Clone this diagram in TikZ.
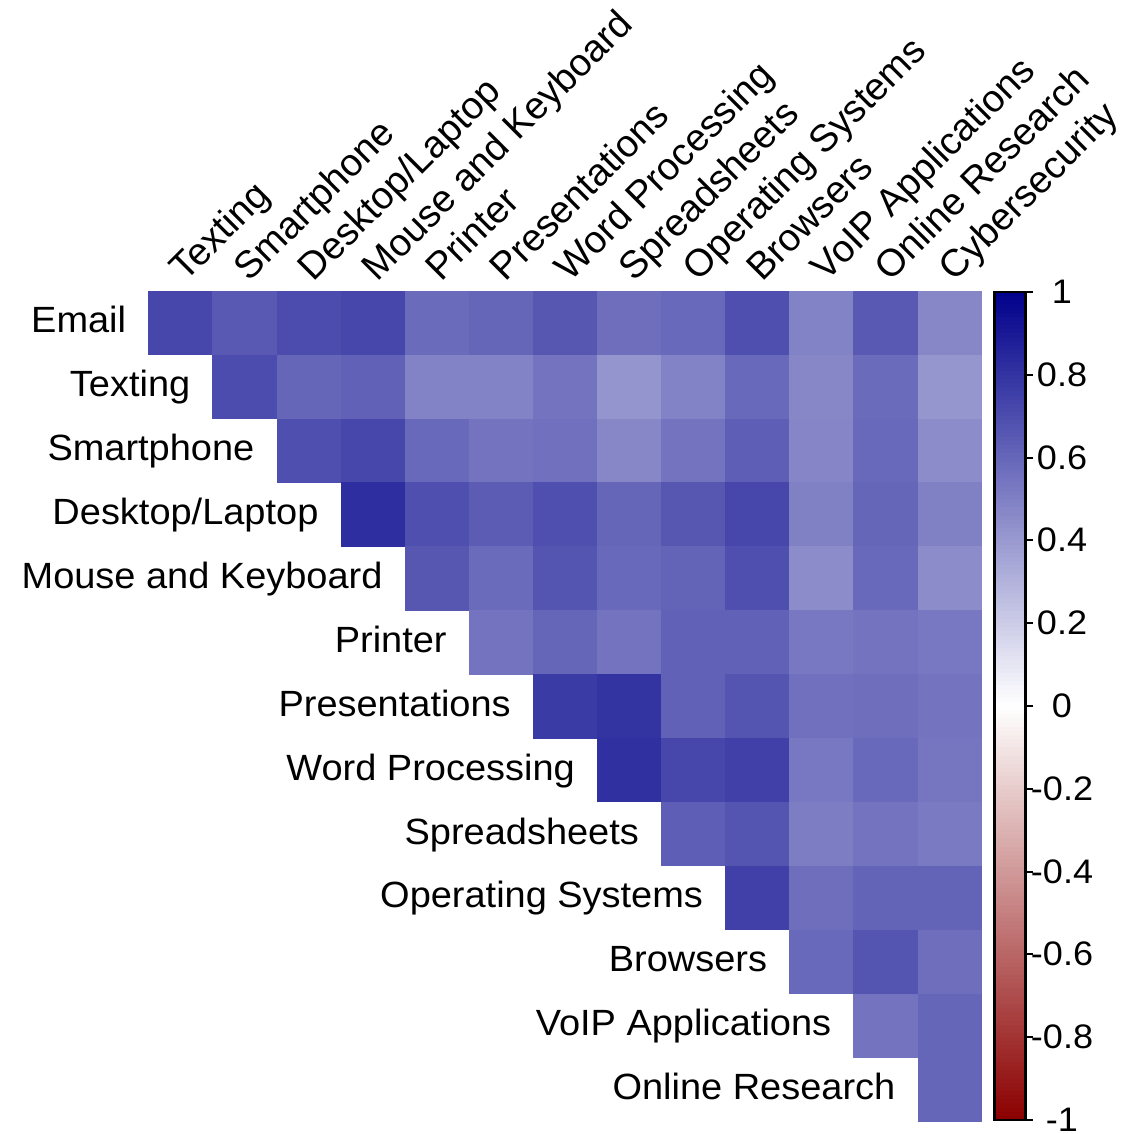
\documentclass[tikz,border=0pt]{standalone}
\usepackage{fontspec}
\setmainfont{Liberation Sans}
\usepackage{graphicx}
\definecolor{cpos}{RGB}{0,0,139}
\definecolor{cneg}{RGB}{139,0,0}
\tikzset{
  rowlab/.style={anchor=base east, inner sep=0pt, font=\fontsize{36.5}{40}\selectfont},
  collab/.style={anchor=base west, inner sep=0pt, rotate=45, font=\fontsize{38.2}{42}\selectfont},
  ticklab/.style={anchor=base, inner sep=0pt, font=\fontsize{34}{40}\selectfont},
  barframe/.style={draw=black, line width=2.5pt},
  tickmark/.style={draw=black, line width=2pt},
}
\def\gridL{148.3}
\def\gridT{290.7}
\def\cellW{64.1}
\def\cellH{63.92}
\begin{document}
\begin{tikzpicture}[x=1pt,y=-1pt]
\useasboundingbox (0,0) rectangle (1123,1134);
% correlation cells (upper triangle), values in percent
\foreach \i/\vals in {
  1/{72,65,70,72,58,60,66,57,59,69,49,65,47},
  2/{70,60,62,49,49,55,42,49,59,47,58,41},
  3/{69,72,59,55,56,47,55,63,48,59,45},
  4/{82,69,64,69,60,66,72,50,60,50},
  5/{66,58,67,59,61,69,45,59,45},
  6/{55,60,55,62,62,53,55,53},
  7/{77,80,62,67,56,57,55},
  8/{81,72,75,53,59,54},
  9/{63,67,51,55,52},
  10/{75,57,61,61},
  11/{59,67,57},
  12/{55,60},
  13/{60}}{
  \foreach \v [count=\k] in \vals {
    \fill[cpos!\v] ({\gridL+(\i+\k-2)*\cellW},{\gridT+(\i-1)*\cellH}) rectangle ++(\cellW+0.4,\cellH+0.4);
  }
}
% row labels
\foreach \name [count=\i] in {Email,Texting,Smartphone,Desktop/Laptop,Mouse and Keyboard,Printer,Presentations,Word Processing,Spreadsheets,Operating Systems,Browsers,VoIP Applications,Online Research}{
  \node[rowlab] (r\i) at ({\gridL+(\i-1)*\cellW-22},{\gridT+(\i-0.5)*\cellH+10}) {\scalebox{1.04}[1]{\name}};
}
% column labels
\foreach \name [count=\j] in {Texting,Smartphone,Desktop/Laptop,Mouse and Keyboard,Printer,Presentations,Word Processing,Spreadsheets,Operating Systems,Browsers,VoIP Applications,Online Research,Cybersecurity}{
  \node[collab] (c\j) at ({\gridL+(\j-0.5)*\cellW+5},283) {\name};
}
% colour bar
\foreach \k in {0,...,199}{
  \pgfmathsetmacro\pc{abs(99.5-\k)}
  \pgfmathsetmacro\ys{292+\k*4.14}
  \ifnum\k<100 \def\cc{cpos}\else\def\cc{cneg}\fi
  \fill[\cc!\pc] (995,\ys) rectangle ({1025},{\ys+4.6});
}
\draw[barframe] (994.5,292) rectangle (1025.5,1120);
\foreach \lab [count=\t from 0] in {1,0.8,0.6,0.4,0.2,0,-0.2,-0.4,-0.6,-0.8,-1}{
  \draw[tickmark] (1025.5,{292+\t*82.8}) -- (1033,{292+\t*82.8});
  \node[ticklab] (k\t) at (1062,{292+\t*82.8+11.5}) {\scalebox{1.06}[1]{\lab}};
}
\end{tikzpicture}
\end{document}
